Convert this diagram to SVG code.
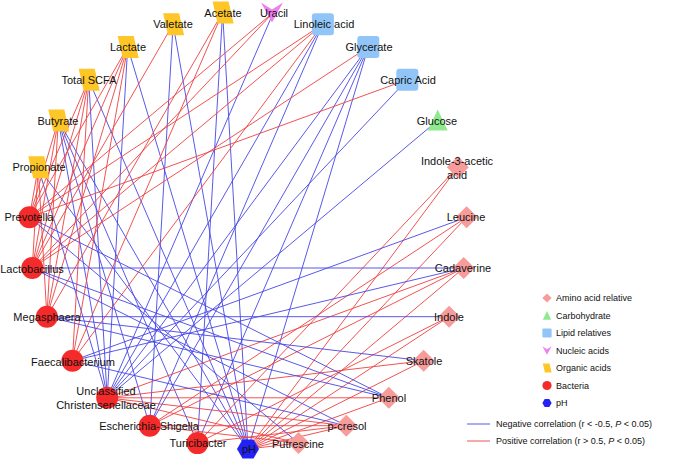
<svg xmlns="http://www.w3.org/2000/svg" width="690" height="461" viewBox="0 0 690 461">
<style>
.pos{stroke:#EE4040;stroke-width:0.9;fill:none}
.neg{stroke:#4646E6;stroke-width:0.9;fill:none}
.lbl{font-family:"Liberation Sans",Arial,sans-serif;font-size:11px;fill:#111;text-anchor:middle;dominant-baseline:central}
.leg{font-family:"Liberation Sans",Arial,sans-serif;font-size:9px;fill:#111;dominant-baseline:central}
.amino{fill:#F79B9B}.carb{fill:#8FEA8F}.lipid{fill:#92C5F7}.nuc{fill:#F080F0}.org{fill:#FFC627}.bac{fill:#F52A2A}.ph{fill:#2222F5}
</style>
<defs>
<polygon id="diamond" points="0,-11 11,0 0,11 -11,0"/>
<polygon id="tri" points="0,-11 10,10 -10,10"/>
<rect id="sq" x="-11" y="-11" width="22" height="22" rx="3"/>
<polygon id="vee" points="-11,-10 0,-3 11,-10 0,10"/>
<polygon id="para" points="-10,-11 6,-11 11,11 -5,11"/>
<circle id="circ" r="11"/>
<polygon id="hex" points="-11,0 -5.5,-9.5 5.5,-9.5 11,0 5.5,9.5 -5.5,9.5"/>
</defs>
<g id="edges">
<!-- Propionate -->
<line class="pos" x1="38.2" y1="167.2" x2="29.4" y2="217.3"/>
<line class="pos" x1="38.2" y1="167.2" x2="32.3" y2="268"/>
<line class="pos" x1="38.2" y1="167.2" x2="46.9" y2="316.7"/>
<line class="neg" x1="38.2" y1="167.2" x2="107.2" y2="397.8"/>
<line class="neg" x1="38.2" y1="167.2" x2="248" y2="449"/>
<!-- Butyrate -->
<line class="pos" x1="58.3" y1="120.5" x2="29.4" y2="217.3"/>
<line class="pos" x1="58.3" y1="120.5" x2="32.3" y2="268"/>
<line class="pos" x1="58.3" y1="120.5" x2="46.9" y2="316.7"/>
<line class="neg" x1="58.3" y1="120.5" x2="107.2" y2="397.8"/>
<line class="neg" x1="58.3" y1="120.5" x2="149.7" y2="425.7"/>
<line class="neg" x1="58.3" y1="120.5" x2="197.5" y2="443.1"/>
<line class="neg" x1="58.3" y1="120.5" x2="248" y2="449"/>
<!-- Total SCFA -->
<line class="pos" x1="88.7" y1="79.7" x2="29.4" y2="217.3"/>
<line class="pos" x1="88.7" y1="79.7" x2="32.3" y2="268"/>
<line class="pos" x1="88.7" y1="79.7" x2="46.9" y2="316.7"/>
<line class="pos" x1="88.7" y1="79.7" x2="72.4" y2="360.8"/>
<line class="neg" x1="88.7" y1="79.7" x2="107.2" y2="397.8"/>
<line class="neg" x1="88.7" y1="79.7" x2="248" y2="449"/>
<!-- Lactate -->
<line class="pos" x1="127.7" y1="47" x2="29.4" y2="217.3"/>
<line class="pos" x1="127.7" y1="47" x2="32.3" y2="268"/>
<line class="pos" x1="127.7" y1="47" x2="46.9" y2="316.7"/>
<line class="pos" x1="127.7" y1="47" x2="72.4" y2="360.8"/>
<line class="neg" x1="127.7" y1="47" x2="107.2" y2="397.8"/>
<line class="neg" x1="127.7" y1="47" x2="248" y2="449"/>
<!-- Valetate -->
<line class="pos" x1="173.1" y1="24.2" x2="32.3" y2="268"/>
<line class="neg" x1="173.1" y1="24.2" x2="149.7" y2="425.7"/>
<line class="neg" x1="173.1" y1="24.2" x2="248" y2="449"/>
<!-- Acetate -->
<line class="pos" x1="222.6" y1="12.5" x2="46.9" y2="316.7"/>
<line class="pos" x1="222.6" y1="12.5" x2="72.4" y2="360.8"/>
<line class="neg" x1="222.6" y1="12.5" x2="197.5" y2="443.1"/>
<line class="neg" x1="222.6" y1="12.5" x2="248" y2="449"/>
<!-- Uracil -->
<line class="pos" x1="273.4" y1="12.5" x2="29.4" y2="217.3"/>
<line class="pos" x1="273.4" y1="12.5" x2="32.3" y2="268"/>
<line class="neg" x1="273.4" y1="12.5" x2="107.2" y2="397.8"/>
<!-- Linoleic -->
<line class="pos" x1="322.9" y1="24.2" x2="29.4" y2="217.3"/>
<line class="pos" x1="322.9" y1="24.2" x2="32.3" y2="268"/>
<line class="pos" x1="322.9" y1="24.2" x2="72.4" y2="360.8"/>
<line class="neg" x1="322.9" y1="24.2" x2="107.2" y2="397.8"/>
<line class="neg" x1="322.9" y1="24.2" x2="149.7" y2="425.7"/>
<!-- Glycerate -->
<line class="pos" x1="368.3" y1="47" x2="32.3" y2="268"/>
<line class="neg" x1="368.3" y1="47" x2="107.2" y2="397.8"/>
<line class="neg" x1="368.3" y1="47" x2="149.7" y2="425.7"/>
<line class="neg" x1="368.3" y1="47" x2="197.5" y2="443.1"/>
<line class="neg" x1="368.3" y1="47" x2="248" y2="449"/>
<!-- Capric -->
<line class="pos" x1="407.3" y1="79.7" x2="29.4" y2="217.3"/>
<line class="neg" x1="407.3" y1="79.7" x2="107.2" y2="397.8"/>
<!-- Glucose -->
<line class="neg" x1="437.7" y1="120.5" x2="107.2" y2="397.8"/>
<!-- IAA -->
<line class="pos" x1="457.8" y1="167.2" x2="197.5" y2="443.1"/>
<line class="pos" x1="457.8" y1="167.2" x2="248" y2="449"/>
<!-- Leucine -->
<line class="neg" x1="466.6" y1="217.3" x2="72.4" y2="360.8"/>
<line class="pos" x1="466.6" y1="217.3" x2="149.7" y2="425.7"/>
<line class="pos" x1="466.6" y1="217.3" x2="248" y2="449"/>
<!-- Cadaverine -->
<line class="neg" x1="463.7" y1="268" x2="32.3" y2="268"/>
<line class="neg" x1="463.7" y1="268" x2="72.4" y2="360.8"/>
<line class="pos" x1="463.7" y1="268" x2="107.2" y2="397.8"/>
<line class="pos" x1="463.7" y1="268" x2="149.7" y2="425.7"/>
<line class="pos" x1="463.7" y1="268" x2="248" y2="449"/>
<!-- Indole -->
<line class="neg" x1="449.1" y1="316.7" x2="46.9" y2="316.7"/>
<line class="pos" x1="449.1" y1="316.7" x2="197.5" y2="443.1"/>
<line class="pos" x1="449.1" y1="316.7" x2="248" y2="449"/>
<!-- Skatole -->
<line class="neg" x1="423.6" y1="360.8" x2="46.9" y2="316.7"/>
<line class="pos" x1="423.6" y1="360.8" x2="107.2" y2="397.8"/>
<line class="pos" x1="423.6" y1="360.8" x2="248" y2="449"/>
<!-- Phenol -->
<line class="neg" x1="388.8" y1="397.8" x2="29.4" y2="217.3"/>
<line class="neg" x1="388.8" y1="397.8" x2="32.3" y2="268"/>
<line class="neg" x1="388.8" y1="397.8" x2="46.9" y2="316.7"/>
<line class="pos" x1="388.8" y1="397.8" x2="107.2" y2="397.8"/>
<line class="pos" x1="388.8" y1="397.8" x2="248" y2="449"/>
<!-- p-cresol -->
<line class="neg" x1="346.3" y1="425.7" x2="32.3" y2="268"/>
<line class="neg" x1="346.3" y1="425.7" x2="72.4" y2="360.8"/>
<line class="pos" x1="346.3" y1="425.7" x2="107.2" y2="397.8"/>
<line class="pos" x1="346.3" y1="425.7" x2="149.7" y2="425.7"/>
<line class="pos" x1="346.3" y1="425.7" x2="197.5" y2="443.1"/>
<line class="pos" x1="346.3" y1="425.7" x2="248" y2="449"/>
<!-- Putrescine -->
<line class="neg" x1="298.5" y1="443.1" x2="29.4" y2="217.3"/>
<line class="pos" x1="298.5" y1="443.1" x2="107.2" y2="397.8"/>
<line class="pos" x1="298.5" y1="443.1" x2="149.7" y2="425.7"/>
<line class="pos" x1="298.5" y1="443.1" x2="248" y2="449"/>
</g>
<g id="n-propionate"><use href="#para" class="org" x="38.2" y="167.2"/><text class="lbl" x="39" y="167">Propionate</text></g>
<g id="n-butyrate"><use href="#para" class="org" x="58.3" y="120.5"/><text class="lbl" x="58" y="121">Butyrate</text></g>
<g id="n-totalscfa"><use href="#para" class="org" x="88.7" y="79.7"/><text class="lbl" x="89" y="80">Total SCFA</text></g>
<g id="n-lactate"><use href="#para" class="org" x="127.7" y="47"/><text class="lbl" x="128" y="47">Lactate</text></g>
<g id="n-valetate"><use href="#para" class="org" x="173.1" y="24.2"/><text class="lbl" x="173" y="24">Valetate</text></g>
<g id="n-acetate"><use href="#para" class="org" x="222.6" y="12.5"/><text class="lbl" x="223" y="13">Acetate</text></g>
<g id="n-uracil"><use href="#vee" class="nuc" x="272" y="12.5"/><text class="lbl" x="274" y="13">Uracil</text></g>
<g id="n-linoleic"><use href="#sq" class="lipid" x="322.9" y="24.2"/><text class="lbl" x="324" y="24">Linoleic acid</text></g>
<g id="n-glycerate"><use href="#sq" class="lipid" x="368.3" y="47"/><text class="lbl" x="369" y="47">Glycerate</text></g>
<g id="n-capric"><use href="#sq" class="lipid" x="407.3" y="79.7"/><text class="lbl" x="408" y="80">Capric Acid</text></g>
<g id="n-glucose"><use href="#tri" class="carb" x="437.7" y="120.5"/><text class="lbl" x="437" y="121">Glucose</text></g>
<g id="n-iaa"><use href="#diamond" class="amino" x="457.8" y="167.2"/><text class="lbl" x="457" y="161">Indole-3-acetic</text><text class="lbl" x="457" y="175">acid</text></g>
<g id="n-leucine"><use href="#diamond" class="amino" x="466.6" y="217.3"/><text class="lbl" x="466" y="217">Leucine</text></g>
<g id="n-cadaverine"><use href="#diamond" class="amino" x="463.7" y="268"/><text class="lbl" x="463" y="268">Cadaverine</text></g>
<g id="n-indole"><use href="#diamond" class="amino" x="449.1" y="316.7"/><text class="lbl" x="449" y="317">Indole</text></g>
<g id="n-skatole"><use href="#diamond" class="amino" x="423.6" y="360.8"/><text class="lbl" x="424" y="361">Skatole</text></g>
<g id="n-phenol"><use href="#diamond" class="amino" x="388.8" y="397.8"/><text class="lbl" x="389" y="398">Phenol</text></g>
<g id="n-pcresol"><use href="#diamond" class="amino" x="346.3" y="425.7"/><text class="lbl" x="347" y="426">p-cresol</text></g>
<g id="n-putrescine"><use href="#diamond" class="amino" x="298.5" y="443.1"/><text class="lbl" x="298" y="444">Putrescine</text></g>
<g id="n-ph"><use href="#hex" class="ph" x="248" y="449"/><text class="lbl" x="249" y="449">pH</text></g>
<g id="n-turicibacter"><use href="#circ" class="bac" x="197.5" y="443.1"/><text class="lbl" x="198" y="443">Turicibacter</text></g>
<g id="n-escherichia"><use href="#circ" class="bac" x="149.7" y="425.7"/><text class="lbl" x="149" y="426">Escherichia-Shigella</text></g>
<g id="n-unclassified"><use href="#circ" class="bac" x="107.2" y="397.8"/><text class="lbl" x="106" y="391">Unclassified</text><text class="lbl" x="106" y="405">Christensenellaceae</text></g>
<g id="n-faecalibacterium"><use href="#circ" class="bac" x="72.4" y="360.8"/><text class="lbl" x="73" y="362">Faecalibacterium</text></g>
<g id="n-megasphaera"><use href="#circ" class="bac" x="46.9" y="316.7"/><text class="lbl" x="47" y="317">Megasphaera</text></g>
<g id="n-lactobacillus"><use href="#circ" class="bac" x="32.3" y="268"/><text class="lbl" x="32" y="269">Lactobacillus</text></g>
<g id="n-prevotella"><use href="#circ" class="bac" x="29.4" y="217.3"/><text class="lbl" x="29" y="217">Prevotella</text></g>
<g id="legend">
<use href="#diamond" class="amino" transform="translate(547,298) scale(0.42)"/><text class="leg" x="556" y="298">Amino acid relative</text>
<use href="#tri" class="carb" transform="translate(547,315.5) scale(0.42)"/><text class="leg" x="556" y="315.5">Carbohydrate</text>
<use href="#sq" class="lipid" transform="translate(547,333) scale(0.42)"/><text class="leg" x="556" y="333">Lipid relatives</text>
<use href="#vee" class="nuc" transform="translate(547,350.5) scale(0.42)"/><text class="leg" x="556" y="350.5">Nucleic acids</text>
<use href="#para" class="org" transform="translate(547,368) scale(0.42)"/><text class="leg" x="556" y="368">Organic acids</text>
<use href="#circ" class="bac" transform="translate(547,385.5) scale(0.42)"/><text class="leg" x="556" y="385.5">Bacteria</text>
<use href="#hex" class="ph" transform="translate(547,403) scale(0.42)"/><text class="leg" x="556" y="403">pH</text>
<line class="neg" x1="467" y1="424" x2="490" y2="424"/><text class="leg" x="496" y="424">Negative correlation (r &lt; -0.5, <tspan font-style="italic">P</tspan> &lt; 0.05)</text>
<line class="pos" x1="467" y1="441" x2="490" y2="441"/><text class="leg" x="496" y="441">Positive correlation (r &gt; 0.5, <tspan font-style="italic">P</tspan> &lt; 0.05)</text>
</g>
</svg>
